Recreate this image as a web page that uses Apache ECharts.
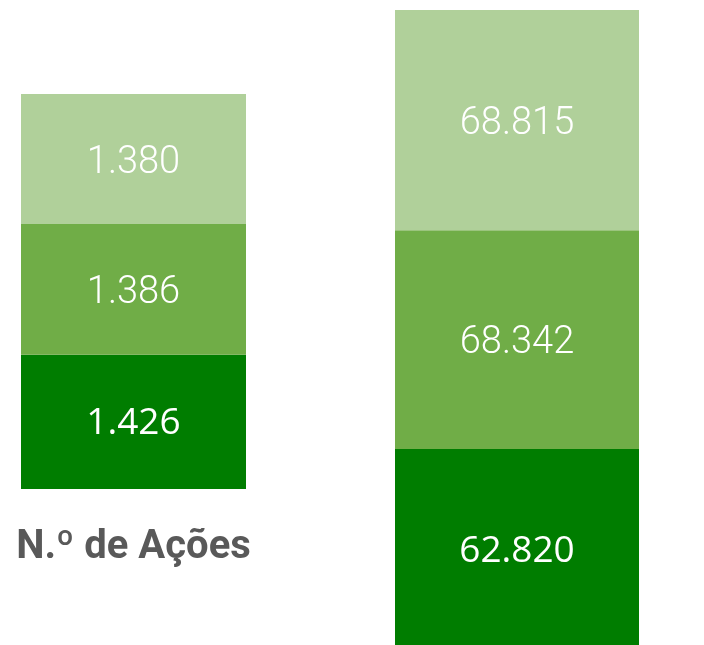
<!DOCTYPE html>
<html>
<head>
<meta charset="utf-8">
<script src="https://cdn.jsdelivr.net/npm/echarts@6/dist/echarts.min.js"></script>
<style>
  html, body { margin: 0; padding: 0; background: #fff; }
  #chart { width: 704px; height: 645px; }
</style>
</head>
<body>
<div id="chart"></div>
<script>
// each column has its own scale, bottom segment first
const leftCategory = ['N.º de Ações'];
const leftValues = [1426, 1386, 1380];
const rightCategory = [''];
const rightValues = [62820, 68342, 68815];

const colors = ['#007D00', '#70AD47', '#B0D09A'];
// the darker segment uses a regular face, the others a light one
const labelFonts = [
    { fontFamily: 'Open Sans', fontWeight: 'normal', size: 37, dy: 2 },
    { fontFamily: 'Roboto', fontWeight: 300, size: 38, dy: 4 },
    { fontFamily: 'Roboto', fontWeight: 300, size: 38, dy: 4 }
];

const fmt = v => v.toLocaleString('de-DE');
const sum = arr => arr.reduce((a, b) => a + b, 0);

function makeSeries(values, axisIndex, stackName) {
    return values.map((v, i) => ({
        type: 'bar',
        stack: stackName,
        xAxisIndex: axisIndex,
        yAxisIndex: axisIndex,
        barWidth: '100%',
        data: [v],
        itemStyle: { color: colors[i] },
        label: {
            show: true,
            position: 'inside',
            offset: [0, labelFonts[i].dy],
            color: '#fff',
            fontSize: labelFonts[i].size,
            fontFamily: labelFonts[i].fontFamily,
            fontWeight: labelFonts[i].fontWeight,
            formatter: p => fmt(p.value)
        }
    }));
}

const chart = echarts.init(document.getElementById('chart'));
chart.setOption({
    animation: false,
    grid: [
        { left: 21, top: 94, width: 225, height: 395, outerBoundsMode: 'none' },
        // the right column runs a little past the bottom edge
        { left: 395, top: 10, width: 244, height: 640, outerBoundsMode: 'none' }
    ],
    xAxis: [
        {
            type: 'category', gridIndex: 0, data: leftCategory,
            axisLine: { show: false }, axisTick: { show: false },
            axisLabel: {
                margin: 39,
                color: '#595959',
                fontSize: 40,
                fontWeight: 'bold',
                fontFamily: 'Roboto'
            }
        },
        {
            type: 'category', gridIndex: 1, data: rightCategory,
            axisLine: { show: false }, axisTick: { show: false },
            axisLabel: { show: false }
        }
    ],
    yAxis: [
        { type: 'value', gridIndex: 0, min: 0, max: sum(leftValues), show: false },
        { type: 'value', gridIndex: 1, min: 0, max: sum(rightValues), show: false }
    ],
    series: [
        ...makeSeries(leftValues, 0, 'acoes'),
        ...makeSeries(rightValues, 1, 'outro')
    ]
});
</script>
</body>
</html>
